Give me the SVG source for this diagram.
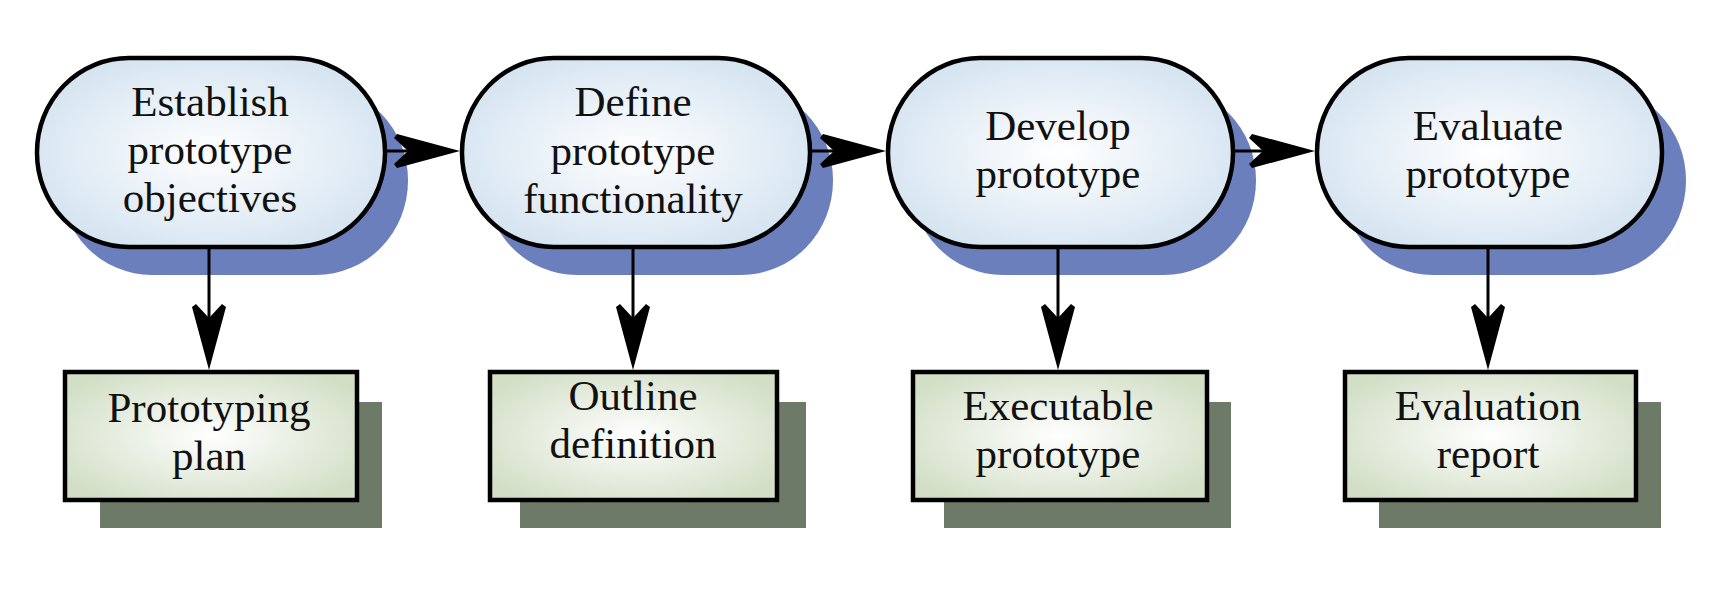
<svg xmlns="http://www.w3.org/2000/svg" xmlns:xlink="http://www.w3.org/1999/xlink" width="1725" height="605" viewBox="0 0 1725 605">
<style>
.pill{fill:url(#gp);stroke:#000;stroke-width:4.5}
.psh{fill:#6b7fbc}
.box{fill:url(#gb);stroke:#000;stroke-width:4.5}
.bsh{fill:#6e7a68}
.t{font-family:"Liberation Serif","Times New Roman",serif;font-size:43px;fill:#111;text-anchor:middle}
.ln{stroke:#000;stroke-width:3;fill:none}
.ah{fill:#000}
</style>
<defs>
<radialGradient id="gp" cx="0.5" cy="0.5" r="0.6">
<stop offset="0" stop-color="#ffffff"/>
<stop offset="1" stop-color="#d2e2f0"/>
</radialGradient>
<radialGradient id="gb" cx="0.5" cy="0.5" r="0.6">
<stop offset="0" stop-color="#ffffff"/>
<stop offset="1" stop-color="#d2dfc6"/>
</radialGradient>
<path id="ah" d="M0,0 L-63,-17 L-66,-13 L-52,0 L-66,13 L-63,17 Z"/>
</defs>
<rect width="1725" height="605" fill="#fff"/>

<g id="n1">
<rect class="psh" x="60" y="86" width="348" height="189" rx="92" ry="94"/>
<rect class="pill" x="37" y="58" width="348" height="189" rx="92" ry="94"/>
<text class="t" x="210" y="116">Establish</text>
<text class="t" x="210" y="164">prototype</text>
<text class="t" x="210" y="212">objectives</text>
</g>
<g id="n2">
<rect class="psh" x="485" y="86" width="348" height="189" rx="92" ry="94"/>
<rect class="pill" x="462" y="58" width="348" height="189" rx="92" ry="94"/>
<text class="t" x="633" y="116">Define</text>
<text class="t" x="633" y="165">prototype</text>
<text class="t" x="633" y="213">functionality</text>
</g>
<g id="n3">
<rect class="psh" x="911" y="86" width="345" height="189" rx="92" ry="94"/>
<rect class="pill" x="888" y="58" width="345" height="189" rx="92" ry="94"/>
<text class="t" x="1058" y="140">Develop</text>
<text class="t" x="1058" y="188">prototype</text>
</g>
<g id="n4">
<rect class="psh" x="1341" y="86" width="345" height="189" rx="92" ry="94"/>
<rect class="pill" x="1317" y="58" width="345" height="189" rx="92" ry="94"/>
<text class="t" x="1488" y="140">Evaluate</text>
<text class="t" x="1488" y="188">prototype</text>
</g>

<g id="b1">
<rect class="bsh" x="100" y="402" width="282" height="126"/>
<rect class="box" x="65" y="372" width="292" height="128"/>
<text class="t" x="209" y="422">Prototyping</text>
<text class="t" x="209" y="470">plan</text>
</g>
<g id="b2">
<rect class="bsh" x="520" y="402" width="286" height="126"/>
<rect class="box" x="490" y="372" width="287" height="128"/>
<text class="t" x="633" y="410">Outline</text>
<text class="t" x="633" y="458">definition</text>
</g>
<g id="b3">
<rect class="bsh" x="944" y="402" width="287" height="126"/>
<rect class="box" x="913" y="372" width="294" height="128"/>
<text class="t" x="1058" y="420">Executable</text>
<text class="t" x="1058" y="468">prototype</text>
</g>
<g id="b4">
<rect class="bsh" x="1379" y="402" width="282" height="126"/>
<rect class="box" x="1345" y="372" width="291" height="128"/>
<text class="t" x="1488" y="420">Evaluation</text>
<text class="t" x="1488" y="468">report</text>
</g>

<g id="connectors">
<line class="ln" x1="387" y1="151" x2="410" y2="151"/>
<use href="#ah" class="ah" transform="translate(460,151)"/>
<line class="ln" x1="812" y1="151" x2="836" y2="151"/>
<use href="#ah" class="ah" transform="translate(886,151)"/>
<line class="ln" x1="1235" y1="151" x2="1265" y2="151"/>
<use href="#ah" class="ah" transform="translate(1315,151)"/>
<line class="ln" x1="209" y1="249" x2="209" y2="325"/>
<use href="#ah" class="ah" transform="translate(209,370) rotate(90)"/>
<line class="ln" x1="633" y1="249" x2="633" y2="325"/>
<use href="#ah" class="ah" transform="translate(633,370) rotate(90)"/>
<line class="ln" x1="1058" y1="249" x2="1058" y2="325"/>
<use href="#ah" class="ah" transform="translate(1058,370) rotate(90)"/>
<line class="ln" x1="1488" y1="249" x2="1488" y2="325"/>
<use href="#ah" class="ah" transform="translate(1488,370) rotate(90)"/>
</g>
</svg>
